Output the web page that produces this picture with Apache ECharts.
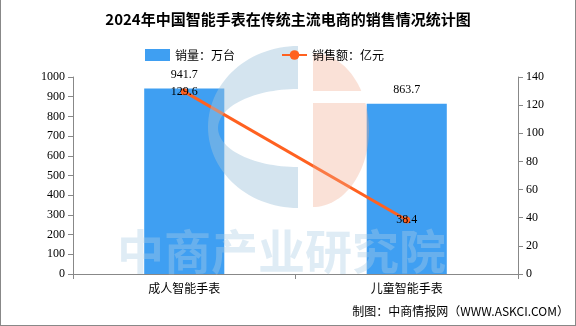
<!DOCTYPE html>
<html><head><meta charset="utf-8">
<script src="https://cdn.jsdelivr.net/npm/echarts@6/dist/echarts.min.js"></script>
<style>html,body{margin:0;padding:0;background:#fff}#c{width:576px;height:326px;box-sizing:border-box;border:1px solid #888;border-top:none}</style>
</head><body><div id="c"></div>
<script>
const categories = ['成人智能手表', '儿童智能手表'];
const salesVolume = [941.7, 863.7];
const salesAmount = [129.6, 38.4];
const titleText = '2024年中国智能手表在传统主流电商的销售情况统计图';
const sourceText = '制图：中商情报网（WWW.ASKCI.COM）';
const watermarkText = '中商产业研究院';
const chart = echarts.init(document.getElementById('c'));
const numFont = '"Liberation Serif","DejaVu Serif",serif';
const blueWm = 'rgba(160,195,220,0.45)';
const pinkWm = 'rgba(240,170,140,0.35)';

// decorative logo watermark outlines (elliptical arcs)
function arc(cx, cy, rx, ry, a0, a1, n) {
  const pts = [];
  for (let i = 0; i <= n; i++) {
    const a = a0 + (a1 - a0) * i / n;
    pts.push([cx + rx * Math.cos(a), cy + ry * Math.sin(a)]);
  }
  return pts;
}
const blueC = arc(297, 127, 90, 81, -Math.PI / 2, -Math.PI * 1.5, 60)
  .concat(arc(297, 128, 80, 39, Math.PI / 2, Math.PI * 1.5, 60));
function pinkPiece(yTop, yBot) {
  const cx = 312, cy = 130, rx = 56, ry = 77;
  const a0 = Math.asin((yTop - cy) / ry), a1 = Math.asin((yBot - cy) / ry);
  return [[cx, yTop]].concat(arc(cx, cy, rx, ry, a0, a1, 40)).concat([[cx, yBot]]);
}
const pinkTop = pinkPiece(53, 91);
const pinkBot = pinkPiece(103, 207);

chart.setOption({
  animation: false,
  title: {text: titleText, left: 'center', top: 7,
    textStyle: {fontSize: 15, fontWeight: 'bold', color: '#000', fontFamily: '"Noto Sans CJK SC"'}},
  legend: {top: 44, left: 139, itemGap: 46, itemWidth: 25, itemHeight: 12, z: 20,
    textStyle: {fontSize: 12, color: '#000', fontFamily: '"Noto Sans CJK SC"'},
    data: [{name: '销量：万台', icon: 'rect'}, {name: '销售额：亿元'}]},
  graphic: [
    {type: 'polygon', z: 10, silent: true, shape: {points: blueC}, style: {fill: blueWm}},
    {type: 'polygon', z: 10, silent: true, shape: {points: pinkTop}, style: {fill: pinkWm}},
    {type: 'polygon', z: 10, silent: true, shape: {points: pinkBot}, style: {fill: pinkWm}},
    {type: 'text', left: 116, top: 228, z: 10, silent: true,
      style: {text: watermarkText, fontSize: 47, fontWeight: 'bold', fill: 'rgba(170,205,230,0.38)', fontFamily: '"Noto Sans CJK SC"'}},
    {type: 'text', right: 6, top: 305, style: {text: sourceText, fontSize: 12, fill: '#000', fontFamily: '"Noto Sans CJK SC"'}}
  ],
  grid: {left: 72, right: 57, top: 77, bottom: 51},
  xAxis: {type: 'category', data: categories,
    axisLine: {lineStyle: {color: '#888'}}, axisTick: {show: true, lineStyle: {color: '#888'}},
    axisLabel: {color: '#000', fontSize: 12, margin: 8, fontFamily: '"Noto Sans CJK SC"'}},
  yAxis: [
    {type: 'value', min: 0, max: 1000, interval: 100, splitLine: {show: false},
      axisLine: {show: true, lineStyle: {color: '#888'}}, axisTick: {show: true, lineStyle: {color: '#888'}},
      axisLabel: {color: '#000', fontSize: 12, fontFamily: numFont, formatter: v => String(v)}},
    {type: 'value', min: 0, max: 140, interval: 20, splitLine: {show: false},
      axisLine: {show: true, lineStyle: {color: '#888'}}, axisTick: {show: true, lineStyle: {color: '#888'}},
      axisLabel: {color: '#000', fontSize: 12, fontFamily: numFont, formatter: v => String(v)}}
  ],
  series: [
    {name: '销量：万台', type: 'bar', data: salesVolume, barWidth: '36%', z: 2,
      itemStyle: {color: '#3f9ff2'},
      label: {show: true, position: 'top', distance: 8, color: '#000', fontSize: 12, fontFamily: numFont}},
    {name: '销售额：亿元', type: 'line', yAxisIndex: 1, data: salesAmount, z: 3,
      symbol: 'circle', symbolSize: 7,
      itemStyle: {color: '#ff6120'}, lineStyle: {color: '#ff6120', width: 3},
      label: {show: true, position: 'inside', color: '#000', fontSize: 12, fontFamily: numFont}}
  ]
});
</script></body></html>
